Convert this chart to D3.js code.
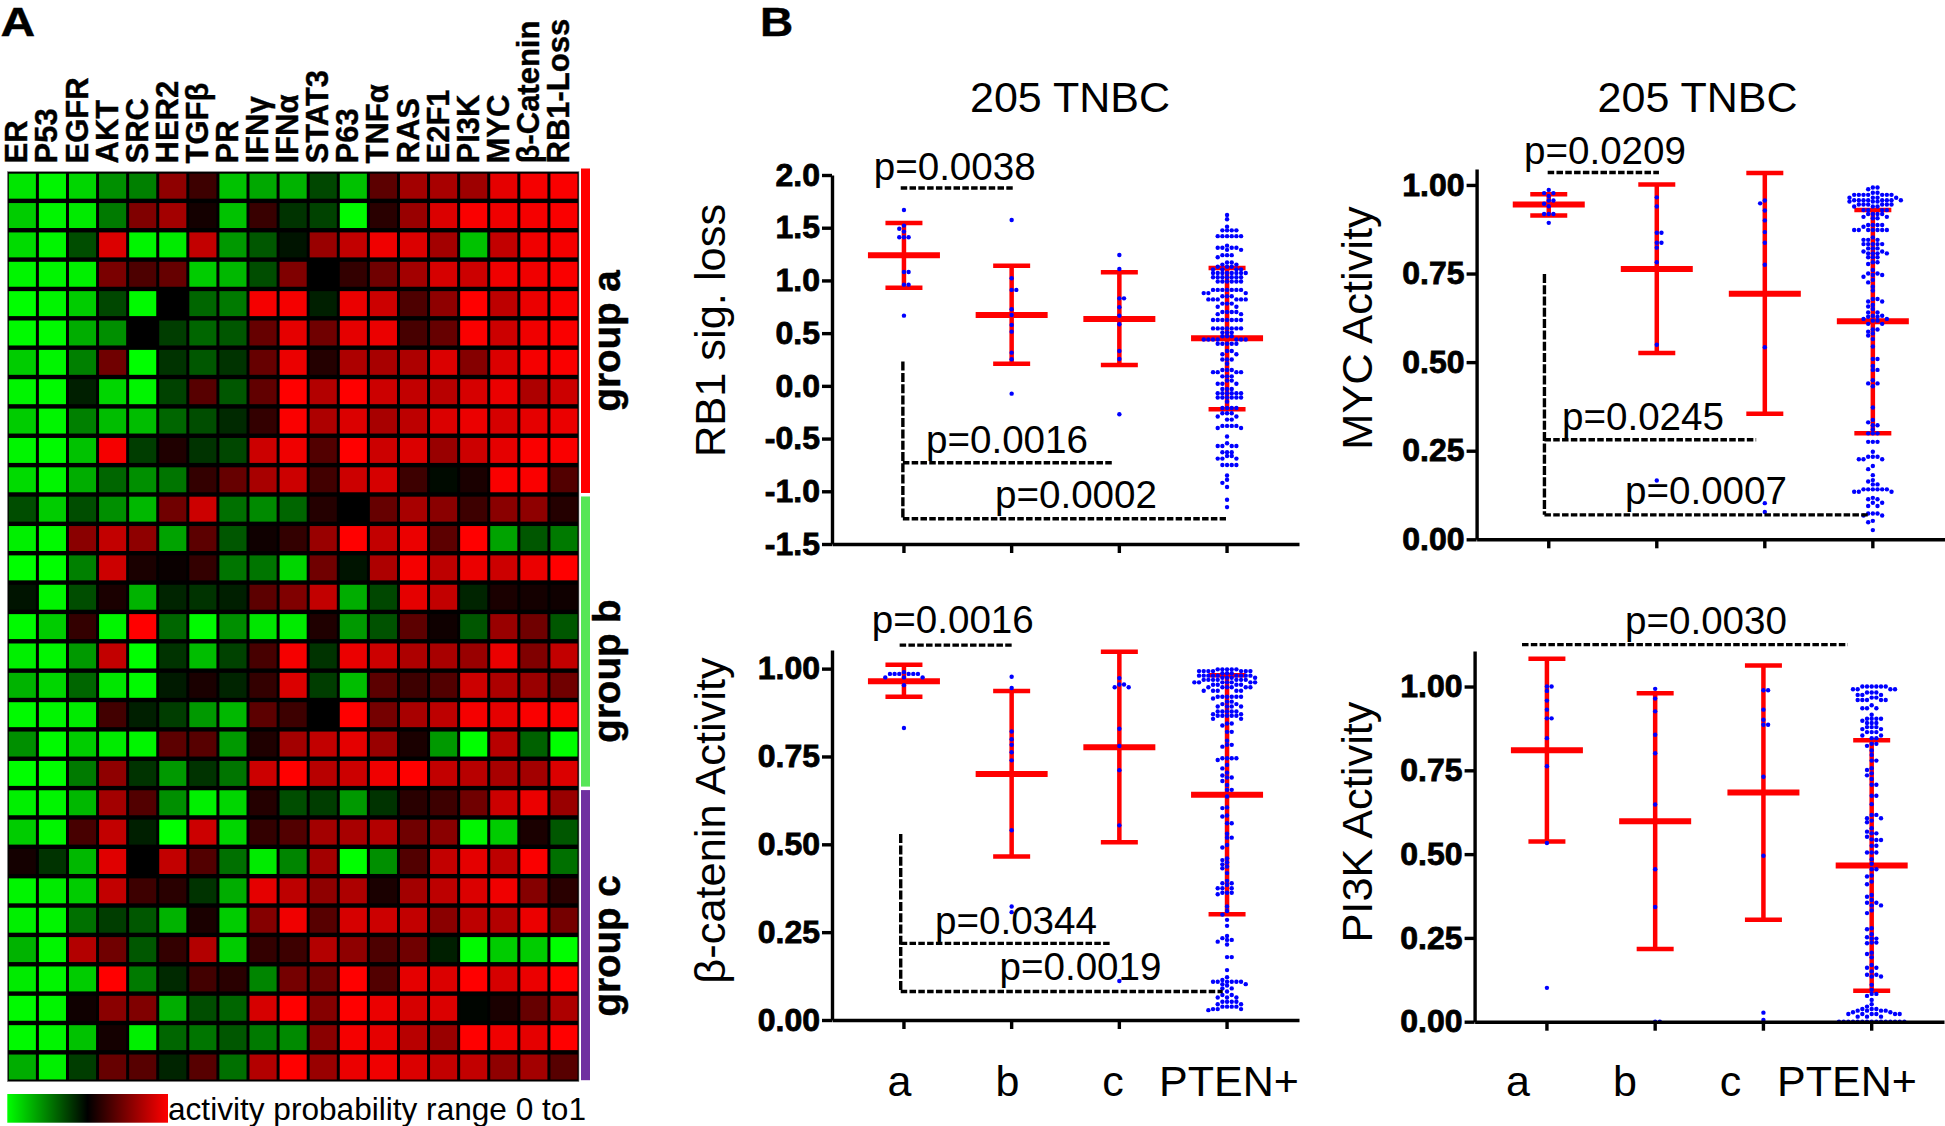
<!DOCTYPE html>
<html>
<head>
<meta charset="utf-8">
<script src="https://cdn.jsdelivr.net/npm/d3@7"></script>
<style>
body { margin: 0; background: #fff; }
text { font-family: "Liberation Sans", Arial, sans-serif; fill: #000; }
</style>
</head>
<body>
<script>
// heatmap, columns left to right, rows top to bottom, 0 = green, 0.5 = black, 1 = red
var pathways = ["ER","P53","EGFR","AKT","SRC","HER2","TGFβ","PR","IFNγ","IFNα","STAT3","P63","TNFα","RAS","E2F1","PI3K","MYC","β-Catenin","RB1-Loss"];
var heatRows = [
[.05,.02,.08,.22,.25,.78,.62,.12,.17,.15,.36,.12,.68,.82,.83,.81,.95,.98,.99],
[.10,.02,.04,.26,.75,.82,.54,.12,.61,.40,.37,.01,.58,.80,.93,.99,.97,.98,.99],
[.07,.02,.35,.93,.02,.04,.88,.20,.33,.46,.80,.88,.97,.93,.82,.12,.88,.97,.98],
[.02,.02,.03,.74,.65,.70,.10,.14,.35,.75,.50,.60,.72,.82,.92,.90,.97,.97,.99],
[.00,.02,.10,.36,.01,.50,.30,.26,.98,.98,.44,.96,.90,.65,.78,1,.87,.96,.99],
[.01,.01,.16,.22,.50,.38,.30,.33,.70,.95,.72,.95,.96,.64,.70,.99,.90,.97,.99],
[.10,.02,.25,.72,.00,.40,.33,.40,.70,.96,.57,.84,.83,.84,.93,.76,.93,.98,.99],
[.02,.01,.44,.08,.02,.37,.67,.33,.69,1,.85,1,.90,.88,.86,.92,.96,.84,.90],
[.10,.02,.25,.13,.13,.30,.35,.42,.60,.99,.84,.93,.83,.87,.93,.96,.92,.95,.96],
[.02,.01,.12,.98,.38,.56,.40,.36,.90,.97,.66,1,.90,.93,.80,.90,.95,.99,.99],
[.07,.02,.16,.30,.22,.27,.60,.70,.83,.90,.63,.90,.92,.62,.48,.55,.99,.99,.66],
[.35,.10,.35,.22,.14,.72,.90,.28,.23,.30,.57,.50,.70,.83,.77,.62,.77,.78,.57],
[.03,.01,.77,.88,.78,.18,.68,.33,.53,.60,.80,1,.88,.96,.68,1,.18,.33,.26],
[.00,.00,.25,.90,.55,.52,.60,.27,.27,.08,.72,.46,.84,.98,.87,.96,.90,.96,1],
[.46,.02,.35,.55,.15,.43,.40,.44,.68,.75,.88,.16,.36,.95,.88,.43,.55,.54,.53],
[.01,.10,.60,.02,1,.30,.01,.22,.05,.04,.56,.20,.34,.68,.53,.33,.80,.72,.33],
[.03,.02,.20,.88,.00,.40,.13,.37,.64,.98,.40,.96,.90,.84,.83,.80,.96,.75,.88],
[.15,.08,.30,.05,.01,.45,.55,.43,.60,.93,.38,.13,.68,.62,.66,.90,.84,.80,.72],
[.01,.02,.04,.63,.44,.38,.20,.14,.68,.62,.50,1,.73,.83,.87,.98,.95,.99,.99],
[.22,.01,.10,.04,.02,.68,.67,.20,.56,.82,.88,.95,.80,.55,.20,.00,.86,.31,.00],
[.00,.00,.26,.78,.40,.20,.40,.27,.90,1,.86,.90,.97,1,.88,.86,.83,.82,.93],
[.03,.02,.14,.82,.66,.22,.03,.08,.57,.35,.38,.20,.40,.58,.62,.72,.90,.96,.80],
[.10,.02,.64,.88,.44,.00,.90,.08,.60,.66,.82,.83,.85,.72,.77,.02,.10,.55,.33],
[.54,.40,.14,.94,.50,.88,.66,.28,.04,.24,.82,.00,.22,.66,.88,.95,.87,.99,.28],
[.02,.04,.10,.88,.62,.58,.40,.16,.95,.87,.78,.84,.55,.82,.87,.93,.97,.76,.58],
[.03,.02,.28,.38,.33,.15,.55,.10,.76,.97,.67,.92,.90,.88,.77,.87,.85,.96,.73],
[.15,.02,.85,.72,.33,.60,.85,.10,.60,.62,.85,.78,.65,.72,.44,.01,.10,.10,.00],
[.04,.02,.10,1,.26,.42,.63,.58,.24,.73,.72,1,.66,.95,.93,1,.92,.96,1],
[.01,.02,.53,.77,.75,.16,.35,.30,.92,1,.76,1,.96,.92,.93,.49,.55,.70,.84],
[.01,.02,.12,.54,.03,.30,.27,.33,.26,.23,.77,.98,.95,.86,.80,1,.97,.95,1],
[.16,.03,.38,.70,.67,.43,.67,.28,.85,1,.80,.96,.97,.93,.88,.88,.78,.82,.67]
];
var groupNames = ["group a","group b","group c"];
var groupRows = [11,10,10];
var groupColors = ["#ff0000","#57e657","#7030a0"];

var groups = ["a","b","c","PTEN+"];

// mean, mean+sd, mean-sd per group
var rb1Mean = [1.238,.672,.634,.451], rb1Upper = [1.545,1.14,1.077,1.118], rb1Lower = [.931,.21,.198,-.222];
var mycMean = [.945,.763,.693,.615], mycUpper = [.974,1.001,1.034,.929], mycLower = [.914,.526,.354,.299];
var catMean = [.964,.70,.776,.641], catUpper = [1.011,.936,1.048,.981], catLower = [.92,.465,.506,.301];
var pi3kMean = [.81,.598,.684,.466], pi3kUpper = [1.083,.98,1.063,.84], pi3kLower = [.538,.217,.304,.092];

// samples as [value, how many at that value]
var rb1A = [[1.668,1],[1.52,1],[1.49,1],[1.463,1],[1.41,3],[1.08,2],[.96,2],[.666,1]];
var rb1B = [[1.573,1],[1.02,1],[.91,2],[.726,1],[.672,1],[.578,1],[.514,1],[.315,1],[.252,1],[-.074,1]];
var rb1C = [[1.241,1],[1.109,1],[.83,2],[.745,1],[.666,1],[.584,1],[.331,1],[.255,1],[-.27,1]];
var rb1P = [[1.62,1],[1.58,1],[1.51,1],[1.475,4],[1.42,6],[1.33,1],[1.31,4],[1.29,2],[1.24,3],[1.22,1],[1.17,2],[1.15,2],[1.13,3],[1.105,4],[1.07,8],[1.03,7],[.99,6],[.91,7],[.88,3],[.85,3],[.82,6],[.78,3],[.75,2],[.70,4],[.68,2],[.625,7],[.545,7],[.505,3],[.47,3],[.44,7],[.40,5],[.33,2],[.30,2],[.25,3],[.21,1],[.15,3],[.13,4],[.09,3],[.05,2],[.02,3],[-.03,3],[-.07,6],[-.11,6],[-.15,1],[-.21,4],[-.26,3],[-.29,2],[-.32,2],[-.38,4],[-.40,2],[-.48,1],[-.545,1],[-.57,4],[-.63,3],[-.665,2],[-.69,3],[-.75,4],[-.85,1],[-.89,1],[-.92,1],[-.96,1],[-1.08,1],[-1.15,1]];

var mycA = [[.986,1],[.977,2],[.969,1],[.956,2],[.947,1],[.94,1],[.918,3],[.893,1]];
var mycB = [[.965,1],[.939,1],[.865,2],[.837,2],[.823,1],[.782,1],[.549,1],[.166,1]];
var mycC = [[.956,1],[.948,1],[.928,1],[.90,1],[.867,1],[.837,1],[.775,1],[.542,1],[.102,1],[.077,1]];
var mycP = [[.993,2],[.988,1],[.978,2],[.972,7],[.964,4],[.957,8],[.953,3],[.945,6],[.939,3],[.929,4],[.918,4],[.91,2],[.906,2],[.887,4],[.882,1],[.873,7],[.852,1],[.845,3],[.833,5],[.821,3],[.812,2],[.807,4],[.796,3],[.782,2],[.777,1],[.76,1],[.75,2],[.746,2],[.741,1],[.732,1],[.725,1],[.713,1],[.702,1],[.678,2],[.671,2],[.661,1],[.657,1],[.65,1],[.64,2],[.631,2],[.628,2],[.622,2],[.617,2],[.608,2],[.592,2],[.586,1],[.581,1],[.575,1],[.565,1],[.544,1],[.509,2],[.489,1],[.478,2],[.449,1],[.44,2],[.432,1],[.372,1],[.337,1],[.33,1],[.322,2],[.31,1],[.299,3],[.275,3],[.247,1],[.233,3],[.226,3],[.207,1],[.198,1],[.181,1],[.167,1],[.163,1],[.155,2],[.141,6],[.134,3],[.117,1],[.113,2],[.103,2],[.094,2],[.073,3],[.067,2],[.052,1],[.048,1],[.026,1]];

var catA = [[.99,1],[.985,6],[.975,3],[.953,1],[.831,1]];
var catB = [[.977,1],[.945,1],[.821,1],[.799,1],[.783,1],[.762,1],[.739,1],[.54,1],[.323,1],[.307,1]];
var catC = [[.973,1],[.955,2],[.947,2],[.829,1],[.78,1],[.711,1],[.554,1],[.111,1]];
var catP = [[.998,5],[.993,7],[.987,3],[.98,9],[.974,4],[.968,7],[.961,7],[.954,4],[.947,6],[.937,5],[.92,6],[.915,1],[.906,2],[.899,2],[.892,4],[.878,5],[.87,2],[.866,5],[.857,2],[.844,2],[.838,1],[.82,2],[.795,1],[.783,2],[.778,1],[.745,4],[.74,1],[.726,1],[.716,1],[.704,1],[.696,1],[.69,2],[.68,1],[.669,1],[.655,2],[.636,1],[.605,1],[.603,1],[.582,1],[.579,1],[.56,2],[.53,1],[.519,2],[.498,1],[.491,1],[.46,1],[.455,1],[.449,1],[.443,1],[.437,1],[.432,1],[.418,1],[.396,1],[.389,2],[.384,1],[.375,3],[.362,3],[.358,1],[.323,1],[.31,1],[.30,1],[.285,1],[.268,1],[.239,1],[.233,1],[.228,2],[.223,1],[.215,1],[.179,2],[.142,1],[.122,1],[.114,1],[.109,6],[.102,2],[.098,1],[.09,2],[.081,1],[.071,2],[.064,3],[.052,4],[.045,2],[.038,4],[.031,3],[.028,1]];

var pi3kA = [[1,2],[.987,1],[.958,1],[.931,1],[.905,2],[.846,1],[.762,1],[.533,1],[.101,1]];
var pi3kB = [[.993,1],[.964,1],[.926,1],[.856,1],[.801,1],[.648,1],[.455,1],[.342,1],[0,2]];
var pi3kC = [[.989,2],[.931,1],[.901,1],[.886,2],[.731,1],[.495,1],[.027,1],[.005,1]];
var pi3kP = [[1,6],[.992,4],[.982,3],[.975,3],[.967,2],[.96,5],[.944,1],[.935,3],[.916,1],[.904,4],[.898,1],[.891,3],[.879,3],[.873,2],[.864,3],[.854,2],[.846,2],[.829,2],[.823,1],[.809,1],[.796,1],[.779,2],[.756,1],[.751,1],[.741,1],[.735,1],[.724,1],[.707,2],[.674,2],[.649,1],[.617,2],[.607,2],[.60,1],[.595,1],[.577,1],[.567,1],[.562,2],[.552,1],[.544,1],[.542,2],[.525,2],[.505,3],[.485,1],[.471,1],[.455,2],[.436,1],[.433,1],[.418,1],[.41,1],[.378,1],[.373,1],[.363,1],[.355,2],[.347,2],[.332,1],[.324,1],[.279,1],[.276,1],[.261,1],[.252,1],[.248,2],[.236,2],[.234,1],[.206,1],[.202,1],[.192,1],[.169,1],[.161,2],[.15,1],[.14,2],[.135,2],[.11,1],[.095,1],[.083,2],[.077,1],[.065,1],[.052,1],[.045,1],[.038,3],[.033,4],[.028,2],[.023,6],[.015,3],[0,15]];

var svg = d3.select("body").append("svg")
    .attr("width", 1945)
    .attr("height", 1126);

svg.append("rect").attr("width", 1945).attr("height", 1126).attr("fill", "#fff");

var heatColor = d3.scaleLinear().domain([0, .5, 1]).range(["#00ff00", "#000000", "#ff0000"]);

//bold labels are a bit heavier in the original
function heavy(sel, w) {
    return sel.attr("font-weight", "bold").attr("stroke", "#000").attr("stroke-width", w);
}

//panel letters, wider than the font draws them
heavy(svg.append("text").attr("transform", "translate(0.5,36.3) scale(1.2,1)").attr("font-size", 40).text("A"), .4);
heavy(svg.append("text").attr("transform", "translate(760,36.3) scale(1.15,1)").attr("font-size", 40).text("B"), .4);

//heatmap
{
    var hx = d3.scaleBand().domain(d3.range(pathways.length)).range([7.3, 579]);
    var hy = d3.scaleBand().domain(d3.range(heatRows.length)).range([171.5, 1081.7]);

    svg.append("rect")
        .attr("x", 7.3).attr("y", 171.5).attr("width", 571.7).attr("height", 910.2)
        .attr("fill", "#000").attr("stroke", "#999").attr("stroke-width", 0.6);

    svg.append("g").selectAll("g").data(heatRows).enter().append("g")
        .attr("transform", (d, i) => `translate(0,${hy(i)})`)
        .selectAll("rect").data(d => d).enter().append("rect")
            .attr("x", (d, i) => hx(i) + 1.5)
            .attr("y", 2.2)
            .attr("width", hx.bandwidth() - 3)
            .attr("height", hy.bandwidth() - 4.4)
            .attr("fill", d => heatColor(d));

    heavy(svg.append("g").selectAll("text").data(pathways).enter().append("text")
        .attr("transform", (d, i) => `translate(${hx(i) + hx.bandwidth() / 2 + 5},163.5) rotate(-90)`)
        .attr("font-size", 31)
        .text(d => d), .4);

    //group bars on the right, from row counts
    var rowStart = 0;
    groupNames.forEach(function(name, i) {
        var y0 = hy(rowStart) - (i == 0 ? 3 : -2);
        var y1 = hy(rowStart + groupRows[i] - 1) + hy.bandwidth() - 1.5;
        svg.append("rect")
            .attr("x", 581).attr("y", y0).attr("width", 9).attr("height", y1 - y0)
            .attr("fill", groupColors[i]);
        heavy(svg.append("text")
            .attr("transform", `translate(620,${[341, 671, 946][i]}) rotate(-90)`)
            .attr("text-anchor", "middle")
            .attr("font-size", 38.5)
            .text(name), .5);
        rowStart += groupRows[i];
    });

    //colour bar
    var grad = svg.append("defs").append("linearGradient").attr("id", "heatgrad");
    grad.selectAll("stop").data([0, .25, .5, .75, 1]).enter().append("stop")
        .attr("offset", d => d * 100 + "%")
        .attr("stop-color", d => heatColor(d));
    svg.append("rect").attr("x", 7.3).attr("y", 1094).attr("width", 160.7).attr("height", 28.7).attr("fill", "url(#heatgrad)");
    svg.append("text").attr("x", 168).attr("y", 1119.5).attr("font-size", 31.6).text("activity probability range 0 to1");
}

//spread the dots of one group sideways so they do not sit on each other
function swarm(rows, y) {
    var placed = [];
    rows.forEach(function(r) {
        d3.range(r[1]).forEach(function(k) {
            var py = y(r[0]);
            var side = k % 2 ? 1 : -1;
            for (var step = 0; step < 30; step++) {
                var off = (step % 2 ? side : -side) * Math.ceil(step / 2) * 4.67;
                if (!placed.some(p => Math.hypot(p.off - off, p.py - py) < 3.6)) break;
            }
            placed.push({value: r[0], off: off, py: py});
        });
    });
    return placed;
}

function drawPanel(o) {
    var x = d3.scaleBand().domain(groups).range([o.left, o.right]).paddingInner(0).paddingOuter(.168);
    var y = d3.scaleLinear().domain(o.domain).range(o.range);
    var cx = i => x(groups[i]) + x.bandwidth() / 2;
    var xAt = i => cx(0) + i * x.step();

    var g = svg.append("g");

    var yAxis = d3.axisLeft(y)
        .tickValues(o.ticks)
        .tickFormat(d => d.toFixed(o.digits))
        .tickSize(10)
        .tickSizeOuter(0)
        .tickPadding(2);
    var xAxis = d3.axisBottom(x).tickFormat("").tickSize(9).tickSizeOuter(0);

    //error bars
    groups.forEach(function(name, i) {
        var red = g.append("g").attr("stroke", "#ff0000").attr("fill", "none");
        red.append("line").attr("x1", cx(i)).attr("x2", cx(i))
            .attr("y1", y(o.upper[i])).attr("y2", y(o.lower[i])).attr("stroke-width", 4.5);
        [o.upper[i], o.lower[i]].forEach(v => red.append("line")
            .attr("x1", cx(i) - 18.5).attr("x2", cx(i) + 18.5)
            .attr("y1", y(v)).attr("y2", y(v)).attr("stroke-width", 4.5));
        red.append("line").attr("x1", cx(i) - 36).attr("x2", cx(i) + 36)
            .attr("y1", y(o.mean[i])).attr("y2", y(o.mean[i])).attr("stroke-width", 6);
    });

    //dots
    o.samples.forEach(function(rows, i) {
        g.append("g").attr("fill", "#0000ff")
            .selectAll("circle").data(swarm(rows, y)).enter().append("circle")
                .attr("cx", d => cx(i) + d.off)
                .attr("cy", d => d.py)
                .attr("r", 2.2);
    });

    //dashed brackets, [from group, to group, value] or vertical [group, from value, to value]
    o.hlines.forEach(function(l) {
        g.append("line").attr("x1", xAt(l[0])).attr("x2", xAt(l[1]))
            .attr("y1", y(l[2])).attr("y2", y(l[2]))
            .attr("stroke", "#000").attr("stroke-width", 3.4).attr("stroke-dasharray", "6.5 2.3");
    });
    o.vlines.forEach(function(l) {
        g.append("line").attr("x1", xAt(l[0])).attr("x2", xAt(l[0]))
            .attr("y1", y(l[1])).attr("y2", y(l[2]))
            .attr("stroke", "#000").attr("stroke-width", 3.4).attr("stroke-dasharray", "9 2.3");
    });

    g.append("g")
        .attr("transform", `translate(${o.left},0)`)
        .call(yAxis)
        .call(a => a.selectAll("path,line").attr("stroke", "#000").attr("stroke-width", 3.4))
        .call(a => a.selectAll("text")
            .attr("font-family", "Liberation Sans").attr("font-size", 32).attr("font-weight", "bold")
            .attr("stroke", "#000").attr("stroke-width", 0.8).attr("fill", "#000"));

    g.append("g")
        .attr("transform", `translate(0,${o.range[0]})`)
        .call(xAxis)
        .call(a => a.selectAll("path,line").attr("stroke", "#000").attr("stroke-width", 3.4));

    o.plabels.forEach(function(p) {
        g.append("text").attr("x", p[1]).attr("y", p[2] + 1).attr("font-size", 38.6).text(p[0]);
    });

    if (o.title) {
        g.append("text").attr("x", o.title).attr("y", 112).attr("text-anchor", "middle")
            .attr("font-size", 43).text("205 TNBC");
    }

    g.append("text")
        .attr("transform", `translate(${o.labelX},${o.labelY}) rotate(-90)`)
        .attr("text-anchor", "middle")
        .attr("font-size", 43.4)
        .text(o.label);

    if (o.groupX) {
        groups.forEach(function(name, i) {
            g.append("text").attr("x", o.groupX[i]).attr("y", 1096)
                .attr("text-anchor", "middle").attr("font-size", 43).text(name);
        });
    }
}

//RB1
drawPanel({
    left: 832, right: 1299,
    domain: [-1.5, 2], range: [544, 175],
    ticks: [-1.5, -1, -.5, 0, .5, 1, 1.5, 2], digits: 1,
    mean: rb1Mean, upper: rb1Upper, lower: rb1Lower,
    samples: [rb1A, rb1B, rb1C, rb1P],
    hlines: [[-.03, 1.01, 1.877], [-.01, 1.94, -.73], [-.01, 2.99, -1.26]],
    vlines: [[-.01, .23, -1.26]],
    plabels: [["p=0.0038", 873.7, 179], ["p=0.0016", 926, 451.7], ["p=0.0002", 995, 507]],
    title: 1070, label: "RB1 sig. loss", labelX: 724.7, labelY: 330.5
});

//MYC
drawPanel({
    left: 1476.6, right: 1945,
    domain: [0, 1.045], range: [539.3, 169],
    ticks: [0, .25, .5, .75, 1], digits: 2,
    mean: mycMean, upper: mycUpper, lower: mycLower,
    samples: [mycA, mycB, mycC, mycP],
    hlines: [[-.01, 1.02, 1.035], [-.04, 1.92, .281], [-.04, 2.96, .069]],
    vlines: [[-.04, .749, .069]],
    plabels: [["p=0.0209", 1524, 163], ["p=0.0245", 1562, 429], ["p=0.0007", 1625, 502.7]],
    title: 1697.6, label: "MYC Activity", labelX: 1372, labelY: 328
});

//beta catenin
drawPanel({
    left: 832, right: 1299,
    domain: [0, 1.053], range: [1020, 650],
    ticks: [0, .25, .5, .75, 1], digits: 2,
    mean: catMean, upper: catUpper, lower: catLower,
    samples: [catA, catB, catC, catP],
    hlines: [[-.04, 1.0, 1.067], [-.03, 1.92, .218], [-.03, 2.96, .081]],
    vlines: [[-.03, .529, .081]],
    plabels: [["p=0.0016", 871.8, 632.3], ["p=0.0344", 935, 932.7], ["p=0.0019", 999.5, 979.3]],
    label: "β-catenin Activity", labelX: 724.7, labelY: 820.5,
    groupX: [899.5, 1007.4, 1113, 1229]
});

//PI3K
drawPanel({
    left: 1474.6, right: 1944,
    domain: [0, 1.106], range: [1021.7, 651],
    ticks: [0, .25, .5, .75, 1], digits: 2,
    mean: pi3kMean, upper: pi3kUpper, lower: pi3kLower,
    samples: [pi3kA, pi3kB, pi3kC, pi3kP],
    hlines: [[-.23, 2.78, 1.125]],
    vlines: [],
    plabels: [["p=0.0030", 1625, 632.7]],
    label: "PI3K Activity", labelX: 1372, labelY: 822,
    groupX: [1518, 1625, 1730.5, 1847]
});
</script>
</body>
</html>
